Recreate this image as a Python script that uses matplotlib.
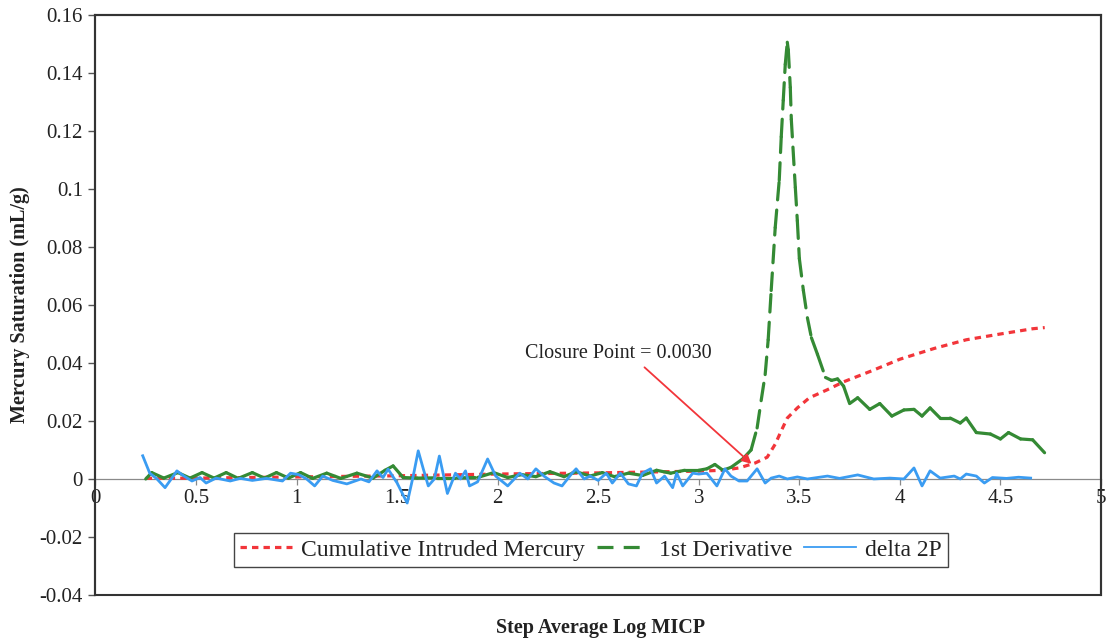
import matplotlib
matplotlib.use("Agg")
import matplotlib.pyplot as plt
from matplotlib.collections import LineCollection
from matplotlib.lines import Line2D
from matplotlib.patches import Rectangle
import numpy as np


FIGURE_SIZE = (11.06, 6.43)
FIGURE_DPI = 100
FONT = "Liberation Serif"

RED = "#f2353a"
GREEN = "#348a34"
BLUE = "#3a9cf2"

# Cumulative Intruded Mercury
cum_x = [0.25, 0.5, 0.75, 1.0, 1.25, 1.5, 1.75, 2.0, 2.25, 2.5, 2.75, 3.0,
         3.12, 3.20, 3.28, 3.34, 3.38, 3.41, 3.44, 3.49, 3.55, 3.64, 3.72,
         3.86, 4.00, 4.17, 4.33, 4.50, 4.66, 4.72]
cum_y = [0.0002, 0.0003, 0.0005, 0.0007, 0.0009, 0.0011, 0.0014, 0.0017,
         0.0019, 0.0021, 0.0024, 0.0027, 0.0030, 0.0038, 0.0055, 0.0075,
         0.0120, 0.0166, 0.0210, 0.0245, 0.0280, 0.0308, 0.0335, 0.0373,
         0.0413, 0.0450, 0.0480, 0.0500, 0.0518, 0.0522]

# 1st Derivative
der_x = [0.25, 0.28, 0.34, 0.41, 0.47, 0.53, 0.59, 0.65, 0.71, 0.78, 0.84,
         0.90, 0.96, 1.02, 1.08, 1.15, 1.22, 1.30, 1.38, 1.44, 1.48, 1.53,
         1.60, 1.70, 1.80, 1.90, 1.98, 2.05, 2.12, 2.19, 2.26, 2.33, 2.39,
         2.46, 2.52, 2.58, 2.65, 2.72, 2.79, 2.86, 2.93, 3.00, 3.04, 3.08,
         3.12, 3.16, 3.22, 3.26, 3.29, 3.31, 3.33, 3.345, 3.36, 3.38, 3.40,
         3.41, 3.42, 3.43, 3.44, 3.445, 3.455, 3.46, 3.48, 3.49, 3.50, 3.52,
         3.54, 3.56, 3.59, 3.63, 3.66, 3.69, 3.72, 3.75, 3.79, 3.85, 3.90,
         3.96, 4.02, 4.07, 4.11, 4.15, 4.20, 4.25, 4.30, 4.33, 4.38, 4.45,
         4.50, 4.54, 4.60, 4.66, 4.72]
der_y = [0.0, 0.0022, 0.0003, 0.0022, 0.0003, 0.0022, 0.0003, 0.0022, 0.0002,
         0.0022, 0.0003, 0.0022, 0.0003, 0.0022, 0.0002, 0.0020, 0.0002,
         0.0020, 0.0003, 0.0030, 0.0045, 0.0005, 0.0003, 0.0004, 0.0004,
         0.0005, 0.0022, 0.0005, 0.0015, 0.0008, 0.0025, 0.0008, 0.0025,
         0.0010, 0.0022, 0.0008, 0.0020, 0.0012, 0.0030, 0.0020, 0.0030,
         0.0030, 0.0035, 0.0050, 0.0030, 0.0040, 0.0070, 0.0100, 0.0176,
         0.0270, 0.0360, 0.0480, 0.0650, 0.0867, 0.1030, 0.1180, 0.1306,
         0.1430, 0.1506, 0.1480, 0.1350, 0.1240, 0.1005, 0.0890, 0.0760,
         0.0650, 0.0556, 0.0487, 0.0430, 0.0350, 0.0340, 0.0345, 0.0320,
         0.0260, 0.0280, 0.0240, 0.0260, 0.0217, 0.0238, 0.0240, 0.0217,
         0.0245, 0.0210, 0.0210, 0.0193, 0.0210, 0.0160, 0.0155, 0.0138,
         0.0160, 0.0138, 0.0135, 0.0090]

# delta 2P
d2p_x = [0.235, 0.27, 0.306, 0.346, 0.38, 0.405, 0.44, 0.48, 0.52, 0.55,
         0.60, 0.67, 0.72, 0.78, 0.85, 0.93, 0.97, 1.01, 1.05, 1.09, 1.13,
         1.18, 1.25, 1.32, 1.36, 1.40, 1.43, 1.455, 1.50, 1.55, 1.58, 1.605,
         1.63, 1.655, 1.685, 1.71, 1.75, 1.79, 1.815, 1.84, 1.86, 1.90, 1.95,
         1.99, 2.05, 2.11, 2.15, 2.19, 2.23, 2.28, 2.32, 2.37, 2.39, 2.43,
         2.46, 2.50, 2.54, 2.57, 2.61, 2.65, 2.69, 2.72, 2.76, 2.79, 2.83,
         2.87, 2.89, 2.92, 2.97, 3.00, 3.04, 3.09, 3.13, 3.16, 3.20, 3.24,
         3.29, 3.33, 3.36, 3.40, 3.44, 3.49, 3.54, 3.60, 3.64, 3.70, 3.79,
         3.87, 3.95, 4.02, 4.07, 4.11, 4.15, 4.20, 4.27, 4.30, 4.33, 4.38,
         4.42, 4.46, 4.53, 4.59, 4.65]
d2p_y = [0.0080, 0.0020, 0.0, -0.0030, 0.0003, 0.0028, 0.0010, -0.0007,
         0.0005, -0.0014, 0.0003, -0.0007, 0.0002, -0.0005, 0.0002, -0.0007,
         0.0020, 0.0015, 0.0, -0.0024, 0.0010, -0.0005, -0.0017, 0.0,
         -0.0010, 0.0028, 0.0005, 0.0034, -0.0014, -0.0083, 0.0010, 0.0097,
         0.0035, -0.0024, 0.0, 0.0079, -0.0050, 0.0020, 0.0, 0.0028, -0.0024,
         -0.0010, 0.0069, 0.0010, -0.0024, 0.0020, 0.0, 0.0035, 0.0010,
         -0.0014, -0.0024, 0.0020, 0.0035, 0.0, 0.0010, -0.0005, 0.0020,
         -0.0014, 0.0020, -0.0017, -0.0024, 0.0020, 0.0035, -0.0014, 0.0010,
         -0.0030, 0.0020, -0.0024, 0.0020, 0.0017, 0.0020, -0.0024, 0.0035,
         0.0010, -0.0007, -0.0007, 0.0035, -0.0014, 0.0003, 0.0010, 0.0,
         0.0007, 0.0, 0.0006, 0.0010, 0.0002, 0.0014, 0.0, 0.0003, 0.0,
         0.0038, -0.0024, 0.0028, 0.0003, 0.0010, 0.0, 0.0017, 0.0010,
         -0.0014, 0.0005, 0.0002, 0.0006, 0.0003]

x_ticks = [0, 0.5, 1, 1.5, 2, 2.5, 3, 3.5, 4, 4.5, 5]
x_labels = ["0", "0.5", "1", "1.5", "2", "2.5", "3", "3.5", "4", "4.5", "5"]
y_ticks = [-0.04, -0.02, 0, 0.02, 0.04, 0.06, 0.08, 0.1, 0.12, 0.14, 0.16]
y_labels = ["-0.04", "-0.02", "0", "0.02", "0.04", "0.06", "0.08", "0.1",
            "0.12", "0.14", "0.16"]

legend_labels = ["Cumulative Intruded Mercury", "1st Derivative", "delta 2P"]
closure_text = "Closure Point = 0.0030"


def main():
    plt.rcParams["font.family"] = FONT
    fig = plt.figure(figsize=FIGURE_SIZE, dpi=FIGURE_DPI)
    ax = fig.add_axes([0.0863, 0.0747, 0.9092, 0.902])

    ax.set_xlim(0, 5)
    ax.set_ylim(-0.04, 0.16)

    # red dotted cumulative curve
    ax.plot(cum_x, cum_y, color=RED, lw=2.3, dashes=(2.0, 1.6),
            solid_capstyle="butt", zorder=3)

    # green: Excel restarts the dash on every segment, so short ones look solid
    pts = np.column_stack([der_x, der_y])
    segs = np.stack([pts[:-1], pts[1:]], axis=1)
    lc = LineCollection(segs, colors=GREEN, linewidths=2.3,
                        linestyles=[(0, (5.5, 3.2))], capstyle="round",
                        zorder=4)
    ax.add_collection(lc)

    ax.plot(d2p_x, d2p_y, color=BLUE, lw=2.0, solid_joinstyle="round",
            zorder=5)

    # closure point annotation
    ax.text(2.598, 0.0432, closure_text, fontsize=14.5, ha="center",
            va="center", color="#222222")
    ax.annotate("", xy=(3.262, 0.0052), xytext=(2.73, 0.0385),
                arrowprops=dict(arrowstyle="-|>", color=RED, lw=1.3,
                                mutation_scale=14, shrinkA=0, shrinkB=0),
                zorder=6)

    # axes styling: x axis crosses at y = 0
    for side in ["top", "right", "left"]:
        ax.spines[side].set_color("#333333")
        ax.spines[side].set_linewidth(1.5)
    ax.spines["bottom"].set_position(("data", 0))
    ax.spines["bottom"].set_color("#8a8a8a")
    ax.spines["bottom"].set_linewidth(0.9)
    ax.add_patch(Rectangle((0, 0), 1, 1, transform=ax.transAxes, fill=False,
                           edgecolor="#333333", lw=1.5, clip_on=False,
                           zorder=10))

    ax.set_xticks(x_ticks)
    ax.set_xticklabels(x_labels)
    ax.set_yticks(y_ticks)
    ax.set_yticklabels(y_labels)
    ax.tick_params(axis="x", direction="out", length=4, width=0.9,
                   color="#8a8a8a", pad=3, labelsize=15, labelcolor="#222222")
    ax.tick_params(axis="y", direction="out", length=5, width=1.0,
                   color="#555555", pad=4, labelsize=15, labelcolor="#222222")
    for lab in ax.get_xticklabels():
        lab.set_clip_on(False)

    ax.set_ylabel("Mercury Saturation (mL/g)", fontsize=14.5,
                  fontweight="bold", color="#222222", labelpad=7)
    fig.text(0.5434, 0.023, "Step Average Log MICP", fontsize=14.5,
             fontweight="bold", ha="center", va="center", color="#222222")

    handles = [
        Line2D([], [], color=RED, lw=2.3, dashes=(2.0, 1.6)),
        Line2D([], [], color=GREEN, lw=2.3, dashes=(5.0, 3.2)),
        Line2D([], [], color=BLUE, lw=1.3),
    ]
    leg = ax.legend(handles, legend_labels, loc="center",
                    bbox_to_anchor=(0.4928, 0.0776), ncol=3, fontsize=17,
                    frameon=True, fancybox=False, framealpha=1,
                    edgecolor="#444444", borderpad=0.25, handlelength=2.2,
                    handletextpad=0.4, columnspacing=0.5)
    leg.get_frame().set_linewidth(1.0)
    for t in leg.get_texts():
        t.set_color("#222222")

    fig.savefig("out.png", dpi=FIGURE_DPI)


if __name__ == "__main__":
    main()
